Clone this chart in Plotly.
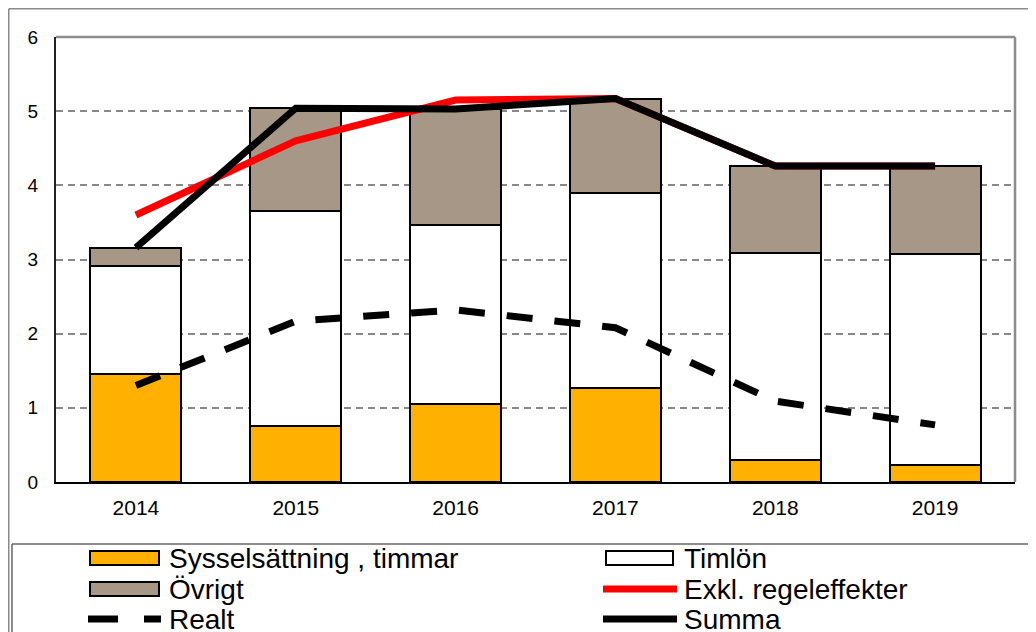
import plotly.graph_objects as go

# ---- data ----
years = ["2014", "2015", "2016", "2017", "2018", "2019"]
syss = [1.45, 0.75, 1.05, 1.27, 0.30, 0.23]
timlon = [1.46, 2.90, 2.41, 2.63, 2.79, 2.85]
ovrigt = [0.25, 1.39, 1.57, 1.26, 1.17, 1.18]
exkl = [3.60, 4.60, 5.15, 5.17, 4.26, 4.26]
realt = [1.30, 2.17, 2.32, 2.08, 1.09, 0.77]
summa = [3.16, 5.04, 5.03, 5.17, 4.26, 4.26]
yticks = [0, 1, 2, 3, 4, 5, 6]

FONT = "Liberation Sans, Arial, sans-serif"
ORANGE = "#FFB000"
GREY = "#A69786"

# page is drawn with an 8px body margin
OFF = 8
W, H = 1028, 624
ML, MR, MT, MB = 48, 21, 29, 150
PW, PH = W - ML - MR, H - MT - MB


def px(x):  # page x -> paper
    return (x - OFF - ML) / PW


def py(y):  # page y -> paper
    return (H - MB - (y - OFF)) / PH


fig = go.Figure()
bar_series = [("Sysselsättning , timmar", syss, ORANGE),
              ("Timlön", timlon, "#FFFFFF"),
              ("Övrigt", ovrigt, GREY)]
for name, vals, col in bar_series:
    fig.add_trace(go.Bar(x=years, y=vals, name=name, marker_color=col,
                         marker_line_color="black", marker_line_width=2,
                         showlegend=False))

line_series = [("Realt", realt, "black", "26px,22px"),
               ("Exkl. regeleffekter", exkl, "#FF0000", "solid"),
               ("Summa", summa, "black", "solid")]
for name, vals, col, dash in line_series:
    fig.add_trace(go.Scatter(x=years, y=vals, name=name, mode="lines",
                             line=dict(color=col, width=7, dash=dash),
                             showlegend=False))

shapes = []
# outer frame and legend box
shapes.append(dict(type="line", xref="paper", yref="paper", x0=px(8.75), x1=px(1045), y0=py(8.75), y1=py(8.75),
                   line=dict(color="#8a8a8a", width=1.5)))
shapes.append(dict(type="line", xref="paper", yref="paper", x0=px(8.75), x1=px(8.75), y0=py(8.75), y1=py(645),
                   line=dict(color="#8a8a8a", width=1.5)))
shapes.append(dict(type="line", xref="paper", yref="paper", x0=px(12), x1=px(1045), y0=py(544), y1=py(544),
                   line=dict(color="#666666", width=1.5)))
shapes.append(dict(type="line", xref="paper", yref="paper", x0=px(12), x1=px(12), y0=py(544), y1=py(645),
                   line=dict(color="#666666", width=1.5)))
# plot frame top/right
shapes.append(dict(type="line", xref="paper", yref="paper", x0=0, x1=1, y0=1, y1=1,
                   line=dict(color="#8c8c8c", width=2.5)))
shapes.append(dict(type="line", xref="paper", yref="paper", x0=1, x1=1, y0=0, y1=1,
                   line=dict(color="#8c8c8c", width=2.5)))

# legend (two columns)
legend_items = [
    ("Sysselsättning , timmar", "bar", ORANGE, None),
    ("Timlön", "bar", "#FFFFFF", None),
    ("Övrigt", "bar", GREY, None),
    ("Exkl. regeleffekter", "line", "#FF0000", "solid"),
    ("Realt", "line", "black", "30px,26px"),
    ("Summa", "line", "black", "solid"),
]
col_bar = [(90, 159), (606, 673)]
col_line = [(88, 161), (603, 677)]
col_text = [167, 682]
row_y = [558, 589, 619]
annotations = []
for i, (name, kind, col, dash) in enumerate(legend_items):
    c, r = i % 2, i // 2
    yc = row_y[r]
    if kind == "bar":
        x0, x1 = col_bar[c]
        shapes.append(dict(type="rect", xref="paper", yref="paper", x0=px(x0), x1=px(x1),
                           y0=py(yc - 7), y1=py(yc + 7), fillcolor=col,
                           line=dict(color="black", width=2)))
    else:
        x0, x1 = col_line[c]
        shapes.append(dict(type="line", xref="paper", yref="paper", x0=px(x0), x1=px(x1),
                           y0=py(yc), y1=py(yc), line=dict(color=col, width=7, dash=dash)))
    annotations.append(dict(text=name, xref="paper", yref="paper", x=px(col_text[c]), y=py(yc),
                            xanchor="left", yanchor="middle", showarrow=False,
                            font=dict(family=FONT, size=28, color="black")))

fig.update_layout(
    width=W, height=H,
    margin=dict(l=ML, r=MR, t=MT, b=MB),
    paper_bgcolor="white", plot_bgcolor="white",
    barmode="stack", bargap=0.43,
    font=dict(family=FONT, color="black"),
    shapes=shapes, annotations=annotations,
    showlegend=False,
    xaxis=dict(showline=True, linecolor="black", linewidth=2, ticks="",
               tickfont=dict(size=21, family=FONT), ticklabelstandoff=6,
               showgrid=False),
    yaxis=dict(range=[0, 6], tickvals=yticks, showline=True, linecolor="#222222", linewidth=2,
               ticks="", tickfont=dict(size=19, family=FONT), ticklabelstandoff=12,
               showgrid=True, gridcolor="#888888", gridwidth=1.5, griddash="7px,5px",
               zeroline=False),
)

fig.write_html("out.html")
